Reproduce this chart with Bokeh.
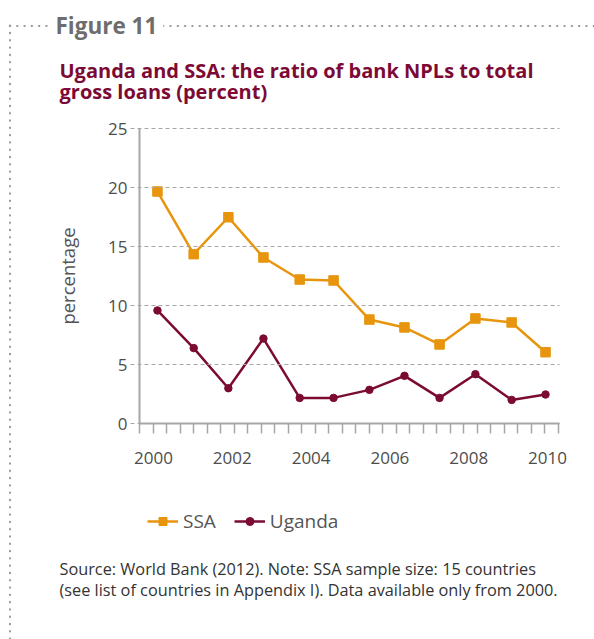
from bokeh.plotting import figure
from bokeh.models import Range1d, FixedTicker, Legend, LegendItem, Label
from bokeh.embed import file_html
from bokeh.resources import INLINE
import numpy as np

# ---- data ----
periods = [2000.10, 2001.02, 2001.90, 2002.79, 2003.71, 2004.57,
           2005.48, 2006.37, 2007.26, 2008.17, 2009.09, 2009.95]
ssa = [19.66, 14.35, 17.48, 14.07, 12.20, 12.12, 8.81, 8.14, 6.70, 8.90, 8.56, 6.04]
uganda = [9.58, 6.39, 2.99, 7.20, 2.17, 2.17, 2.85, 4.04, 2.17, 4.18, 2.00, 2.46]
year_ticks = [2000, 2002, 2004, 2006, 2008, 2010]
pct_ticks = [0, 5, 10, 15, 20, 25]

figure_label = "Figure 11"
title_lines = ["Uganda and SSA: the ratio of bank NPLs to total", "gross loans (percent)"]
source_lines = ["Source: World Bank (2012). Note: SSA sample size: 15 countries",
                "(see list of countries in Appendix I). Data available only from 2000."]

FONT = "Open Sans"
ORANGE = "#e8950e"
MAROON = "#7b0b33"
GRAY = "#a6a6a6"
DOT = "#9a9a9a"

W, H = 594, 639

# page-pixel -> data helpers (the frame covers the whole canvas)
def dx(px):
    return 2000 + (px - 153) / 39.4

def dy(py):
    return (423 - py) / 11.8

X0, X1 = dx(139), dx(559)   # extent of the x axis

# dotted frame (top line at y~26, left line at x~10) as the figure's background
dot = f"radial-gradient(circle at center, {DOT} 1.1px, transparent 1.5px)"
mask = "linear-gradient(#ffffff, #ffffff)"
styles = {
    "background-image": f"{mask}, {mask}, {dot}, {dot}",
    "background-size": "14px 22px, 6px 30px, 7.3px 4px, 4px 7.3px",
    "background-position": "0px 0px, 0px 0px, 6.35px 23.7px, 8px 22.05px",
    "background-repeat": "no-repeat, no-repeat, repeat-x, repeat-y",
}

p = figure(width=W, height=H, output_backend="svg", toolbar_location=None, title=None,
           x_range=Range1d(dx(0), dx(W)), y_range=Range1d(dy(H), dy(0)),
           min_border=0, styles=styles)
p.outline_line_color = None
p.background_fill_color = None
p.border_fill_color = None
p.xgrid.visible = False
p.ygrid.visible = False

# x axis, fixed at y = 0
xa = p.xaxis[0]
xa.fixed_location = 0
xa.bounds = (X0, X1)
xa.ticker = FixedTicker(ticks=year_ticks, minor_ticks=list(np.linspace(X0 + 0.01, dx(558), 32)))
xa.axis_line_color = GRAY
xa.axis_line_width = 2
xa.major_tick_line_color = None
xa.major_tick_out = 10
xa.major_tick_in = 0
xa.minor_tick_out = 10
xa.minor_tick_in = 0
xa.minor_tick_line_color = GRAY
xa.minor_tick_line_width = 1.5
xa.major_label_text_font = FONT
xa.major_label_text_font_size = "17px"
xa.major_label_text_color = "#4d4d4d"
xa.major_label_standoff = 18

# y axis, fixed at the left end of the x axis; its long inward ticks act as the dashed grid
ya = p.yaxis[0]
ya.fixed_location = X0
ya.bounds = (0, 25)
ya.ticker = FixedTicker(ticks=pct_ticks, minor_ticks=[])
ya.axis_line_color = GRAY
ya.axis_line_width = 2
ya.major_tick_out = 9
ya.major_tick_in = 420
ya.major_tick_line_color = GRAY
ya.major_tick_line_width = 1
ya.major_tick_line_dash = "4 3"
ya.minor_tick_line_color = None
ya.major_label_text_font = FONT
ya.major_label_text_font_size = "17px"
ya.major_label_text_color = "#4d4d4d"
ya.major_label_standoff = 3
ya.axis_label = "percentage"
ya.axis_label_text_font = FONT
ya.axis_label_text_font_size = "18.5px"
ya.axis_label_text_font_style = "normal"
ya.axis_label_text_color = "#555555"
ya.axis_label_standoff = 25

# series
r1 = p.line(periods, ssa, line_color=ORANGE, line_width=2.5)
s1 = p.scatter(periods, ssa, marker="square", size=9.5, color=ORANGE)
r2 = p.line(periods, uganda, line_color=MAROON, line_width=2.5)
s2 = p.scatter(periods, uganda, marker="circle", size=7.5, color=MAROON)

legend = Legend(items=[LegendItem(label="SSA", renderers=[r1, s1]),
                       LegendItem(label="Uganda", renderers=[r2, s2])],
                location=(147, 105), orientation="horizontal",
                border_line_color=None, background_fill_alpha=0,
                padding=0, margin=0, spacing=18, label_standoff=5,
                glyph_width=31, glyph_height=20, label_height=20,
                label_text_font=FONT, label_text_font_size="19px", label_text_color="#555555")
p.add_layout(legend)

# texts
p.add_layout(Label(x=dx(49), y=dy(24.7), text=figure_label, text_font=FONT,
                   text_font_size="22.5px", text_font_style="bold", text_color="#6d6d6d",
                   text_baseline="alphabetic", background_fill_color="white", padding=6))

for t, base in zip(title_lines, [69.7, 91.3]):
    p.add_layout(Label(x=dx(59), y=dy(base), text=t, text_font=FONT,
                       text_font_size="20px", text_font_style="bold", text_color="#7d0a35",
                       text_baseline="alphabetic"))

for t, base in zip(source_lines, [568, 589.5]):
    p.add_layout(Label(x=dx(59), y=dy(base), text=t, text_font=FONT,
                       text_font_size="16.3px", text_color="#333333",
                       text_baseline="alphabetic"))

open("out.html", "w").write(file_html(p, INLINE))
